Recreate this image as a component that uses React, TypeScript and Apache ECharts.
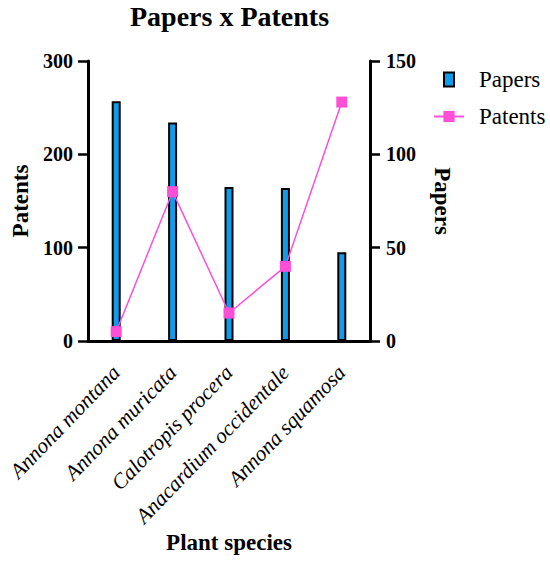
import React, { useEffect, useRef } from "react";
import * as echarts from "echarts";

const categories = [
  "Annona montana",
  "Annona muricata",
  "Calotropis procera",
  "Anacardium occidentale",
  "Annona squamosa",
];
const papers = [257, 234, 165, 164, 95];
const patents = [5, 80, 15, 40, 128];
const leftTicks = [0, 300, 100];
const rightTicks = [0, 150, 50];

const FONT = "Liberation Serif";
const BLUE = "#119CEB";
const PINK = "#FF4FD8";

export default function App() {
  const ref = useRef<HTMLDivElement>(null);
  useEffect(() => {
    if (!ref.current) return;
    const chart = echarts.init(ref.current, null, { renderer: "svg" });
    chart.setOption({
      animation: false,
      textStyle: { fontFamily: FONT },
      title: {
        text: "Papers x Patents",
        left: 130,
        top: 2,
        padding: 0,
        textStyle: { fontFamily: FONT, fontSize: 28, fontWeight: "bold", color: "#000" },
      },
      legend: [
        {
          data: [{ name: "Papers", icon: "rect" }],
          orient: "vertical",
          left: 443,
          top: 68,
          padding: 0,
          itemWidth: 10,
          itemHeight: 14,
          textStyle: { fontFamily: FONT, fontSize: 23, color: "#000", padding: [0, 0, 0, 20] },
        },
        {
          data: ["Patents"],
          orient: "vertical",
          left: 433,
          top: 105,
          padding: 0,
          itemWidth: 30,
          itemHeight: 14,
          textStyle: { fontFamily: FONT, fontSize: 23, color: "#000", padding: [0, 0, 0, 10] },
        },
      ],
      grid: {
        left: 88,
        right: 180,
        top: 61,
        bottom: 226,
        containLabel: false,
        outerBoundsMode: "none",
      },
      xAxis: {
        type: "category",
        data: categories,
        name: "Plant species",
        nameLocation: "middle",
        nameGap: 190,
        nameTextStyle: { fontFamily: FONT, fontSize: 23, fontWeight: "bold", color: "#000" },
        axisLine: { lineStyle: { color: "#000", width: 3 } },
        axisTick: { alignWithLabel: true, length: 11, lineStyle: { color: "#000", width: 2.5 } },
        axisLabel: {
          rotate: 46,
          margin: 28,
          interval: 0,
          fontFamily: FONT,
          fontStyle: "italic",
          fontSize: 21.5,
          color: "#000",
        },
      },
      yAxis: [
        {
          type: "value",
          min: leftTicks[0],
          max: leftTicks[1],
          interval: leftTicks[2],
          name: "Patents",
          nameLocation: "middle",
          nameGap: 56,
          nameTextStyle: { fontFamily: FONT, fontSize: 23, fontWeight: "bold", color: "#000" },
          axisLine: { show: true, lineStyle: { color: "#000", width: 3 } },
          axisTick: { show: true, length: 10, lineStyle: { color: "#000", width: 2.5 } },
          axisLabel: { margin: 15, fontFamily: FONT, fontSize: 20, fontWeight: "bold", color: "#000" },
          splitLine: { show: false },
        },
        {
          type: "value",
          min: rightTicks[0],
          max: rightTicks[1],
          interval: rightTicks[2],
          position: "right",
          name: "Papers",
          nameLocation: "middle",
          nameRotate: -90,
          nameGap: 61,
          nameTextStyle: { fontFamily: FONT, fontSize: 23, fontWeight: "bold", color: "#000" },
          axisLine: { show: true, lineStyle: { color: "#000", width: 3 } },
          axisTick: { show: true, length: 10, lineStyle: { color: "#000", width: 2.5 } },
          axisLabel: { margin: 16, fontFamily: FONT, fontSize: 20, fontWeight: "bold", color: "#000" },
          splitLine: { show: false },
        },
      ],
      series: [
        {
          name: "Papers",
          type: "bar",
          yAxisIndex: 0,
          data: papers,
          barWidth: 9,
          itemStyle: { color: BLUE, borderColor: "#000", borderWidth: 2 },
        },
        {
          name: "Patents",
          type: "line",
          yAxisIndex: 1,
          data: patents,
          symbol: "rect",
          symbolSize: 11,
          z: 5,
          lineStyle: { color: PINK, width: 1.5 },
          itemStyle: { color: PINK },
        },
      ],
    });
    return () => chart.dispose();
  }, []);
  return (
    <div
      ref={ref}
      style={{ position: "fixed", left: 0, top: 0, width: 550, height: 567, background: "#fff" }}
    />
  );
}
